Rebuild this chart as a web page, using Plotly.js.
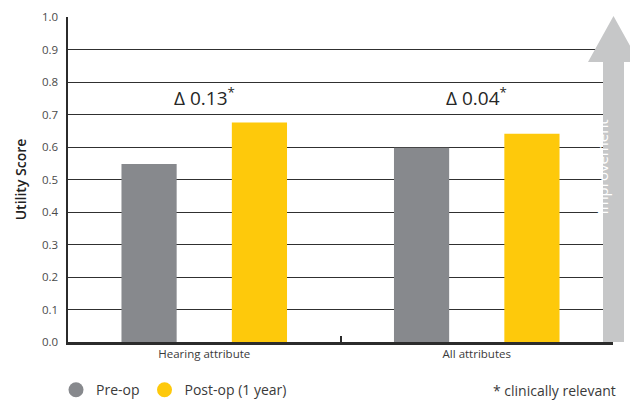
<!DOCTYPE html>
<html>
<head>
<meta charset="utf-8">
<script src="https://cdn.plot.ly/plotly-3.0.1.min.js"></script>
<style>
  html, body { margin: 0; padding: 0; background: #fff; }
  #chart { width: 630px; height: 403px; }
</style>
</head>
<body>
<div id="chart"></div>
<script>
// Utility scores before surgery and one year after, by attribute set
const categories = ['Hearing attribute', 'All attributes'];
const preOp = [0.548, 0.598];
const postOp = [0.675, 0.641];
const yTicks = [0, 0.1, 0.2, 0.3, 0.4, 0.5, 0.6, 0.7, 0.8, 0.9, 1.0];

const GREY = '#87898d';
const YELLOW = '#fec90b';
const FONT = 'Open Sans, Noto Sans, sans-serif';

// plot box in pixels, used to place the decorative arrow
const L = 68, R = 613, T = 17, B = 342;
const px = x => (x - L) / (R - L);
const py = y => (B - y) / (B - T);

const traces = [
  { type: 'bar', x: categories, y: preOp, marker: { color: GREY }, showlegend: false, hoverinfo: 'x+y' },
  { type: 'bar', x: categories, y: postOp, marker: { color: YELLOW }, showlegend: false, hoverinfo: 'x+y' },
  // legend entries drawn as round markers
  { type: 'scatter', mode: 'markers', x: [null], y: [null], name: 'Pre-op',
    marker: { color: GREY, size: 15, symbol: 'circle' } },
  { type: 'scatter', mode: 'markers', x: [null], y: [null], name: 'Post-op (1 year)',
    marker: { color: YELLOW, size: 15, symbol: 'circle' } }
];

// change between pre-op and post-op per category
const deltaNotes = categories.map((c, i) => ({
  x: c, y: 0.755, xref: 'x', yref: 'y',
  text: 'Δ ' + (postOp[i] - preOp[i]).toFixed(2) + '<sup>*</sup>',
  showarrow: false,
  font: { family: FONT, size: 19, color: '#262626' }
}));

// upward arrow at the right edge
const arrowPath = [
  'M', px(603), py(342),
  'L', px(603), py(62),
  'L', px(588), py(62),
  'L', px(613.5), py(16),
  'L', px(639), py(62),
  'L', px(624), py(62),
  'L', px(624), py(342), 'Z'
].join(' ');

const layout = {
  width: 630, height: 403,
  margin: { l: L, r: 630 - R, t: T, b: 403 - B, autoexpand: false },
  paper_bgcolor: '#fff', plot_bgcolor: '#fff',
  barmode: 'group', bargap: 0.19, bargroupgap: 0.5,
  font: { family: FONT, color: '#3a3a3a' },
  xaxis: {
    type: 'category',
    showline: true, linecolor: '#2b2b2b', linewidth: 2.5,
    ticks: 'inside', tickson: 'boundaries', ticklen: 6, tickwidth: 2, tickcolor: '#2b2b2b',
    tickfont: { family: FONT, size: 11.5, color: '#3a3a3a' },
    showgrid: false, zeroline: false, fixedrange: true
  },
  yaxis: {
    range: [0, 1],
    tickvals: yTicks, tickformat: '.1f',
    tickfont: { family: FONT, size: 11.5, color: '#4a4a4a' },
    ticks: '', ticklabelstandoff: 5,
    showline: true, linecolor: '#2b2b2b', linewidth: 2.5,
    showgrid: true, gridcolor: '#303030', gridwidth: 1,
    zeroline: false, fixedrange: true,
    title: { text: 'Utility Score', standoff: 12,
             font: { family: FONT, size: 14, color: '#222', weight: 600 } }
  },
  legend: {
    orientation: 'h', x: -0.022, xanchor: 'left', y: -0.148, yanchor: 'middle',
    font: { family: FONT, size: 14, color: '#3a3a3a' },
    itemwidth: 30, tracegroupgap: 0
  },
  shapes: [
    { type: 'path', xref: 'paper', yref: 'paper', path: arrowPath,
      fillcolor: '#c6c7c8', line: { width: 0 }, layer: 'above' }
  ],
  annotations: deltaNotes.concat([
    { xref: 'paper', yref: 'paper', x: px(613.5), y: py(167),
      text: 'Improvement', textangle: -90, showarrow: false,
      font: { family: FONT, size: 15, color: '#ffffff' } },
    { xref: 'paper', yref: 'paper', x: px(618), y: py(390), xanchor: 'right', yanchor: 'middle',
      text: '* clinically relevant', showarrow: false,
      font: { family: FONT, size: 14, color: '#3a3a3a' } }
  ])
};

Plotly.newPlot('chart', traces, layout, { displayModeBar: false, staticPlot: true });
</script>
</body>
</html>
